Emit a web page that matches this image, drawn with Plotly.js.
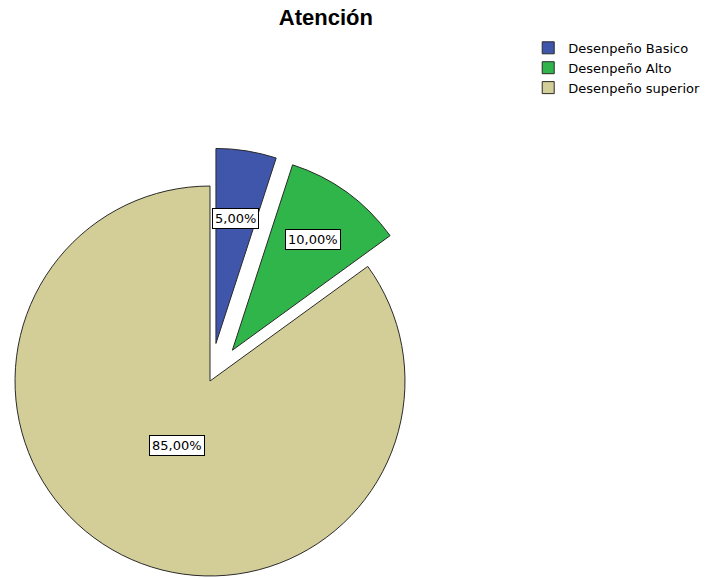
<!DOCTYPE html>
<html>
<head>
<meta charset="utf-8">
<script src="https://cdn.plot.ly/plotly-3.0.1.min.js"></script>
<style>
  html, body { margin: 0; padding: 0; background: #ffffff; overflow: hidden; width: 710px; height: 578px; }
  #chart { position: absolute; left: -23px; top: 0px; width: 733px; height: 620px; }
</style>
</head>
<body>
<div id="chart"></div>
<script>
// ---- data ----
var categories = ["Desenpeño Basico", "Desenpeño Alto", "Desenpeño superior"];
var percentages = [5, 10, 85];
var labelTexts = ["5,00%", "10,00%", "85,00%"];
var chartTitle = "Atención";

// ---- style ----
var sliceColors = ["#3f56ab", "#30b54a", "#d3cd97"];
var slicePull = [0.195, 0.195, 0];
var labelRadiusFraction = [0.65, 0.70, 0.37];

var gd = document.getElementById('chart');

var data = [{
  type: 'pie',
  labels: categories,
  values: percentages,
  textinfo: 'none',
  sort: false,
  direction: 'clockwise',
  rotation: 0,
  pull: slicePull,
  marker: { colors: sliceColors, line: { color: '#2a2a2a', width: 1 } },
  hoverinfo: 'none'
}];

var layout = {
  width: 733,
  height: 620,
  margin: { l: 0, r: 267, t: 148, b: 6, pad: 0 },
  paper_bgcolor: '#ffffff',
  plot_bgcolor: '#ffffff',
  showlegend: true,
  title: {
    text: '<b>' + chartTitle + '</b>',
    font: { family: 'Liberation Sans, Arial, sans-serif', size: 22, color: '#000000' },
    xref: 'container', yref: 'container',
    x: 0.476, xanchor: 'center',
    y: 0.984, yanchor: 'top'
  },
  legend: {
    xref: 'container', yref: 'container',
    x: 0.752, xanchor: 'left',
    y: 0.947, yanchor: 'top',
    font: { family: 'DejaVu Sans', size: 13, color: '#000000' },
    bgcolor: 'rgba(0,0,0,0)',
    tracegroupgap: 0,
    itemwidth: 30
  }
};

Plotly.newPlot(gd, data, layout, { staticPlot: true, displayModeBar: false }).then(function () {
  // place the percentage labels using the pie geometry computed by Plotly
  var cd = gd.calcdata[0];
  var cd0 = cd[0];
  var sz = gd._fullLayout._size;
  var anns = [];
  for (var i = 0; i < cd.length; i++) {
    var pt = cd[i];
    var idx = pt.i;
    var pull = slicePull[idx] || 0;
    var ux = pt.pxmid[0] / cd0.r, uy = pt.pxmid[1] / cd0.r;
    var f = pull + labelRadiusFraction[idx];
    var px = cd0.cx + ux * cd0.r * f;
    var py = cd0.cy + uy * cd0.r * f;
    anns.push({
      xref: 'paper', yref: 'paper',
      x: (px - sz.l) / sz.w,
      y: 1 - (py - sz.t) / sz.h,
      xanchor: 'center', yanchor: 'middle',
      text: labelTexts[idx],
      showarrow: false,
      font: { family: 'DejaVu Sans', size: 13, color: '#000000' },
      bgcolor: '#ffffff',
      bordercolor: '#000000',
      borderwidth: 1,
      borderpad: 2
    });
  }
  return Plotly.relayout(gd, { annotations: anns });
});
</script>
</body>
</html>
